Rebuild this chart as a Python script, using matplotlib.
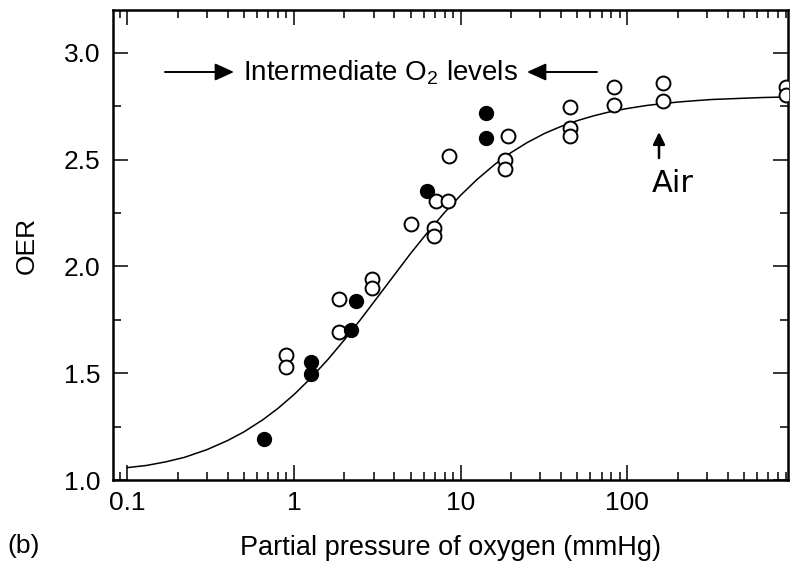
import matplotlib
matplotlib.use("Agg")
import matplotlib.pyplot as plt
from matplotlib.ticker import FixedLocator, FixedFormatter, LogLocator, NullFormatter, MultipleLocator, FormatStrFormatter

plt.rcParams['font.family'] = ['Liberation Sans', 'DejaVu Sans']
plt.rcParams['mathtext.fontset'] = 'custom'
plt.rcParams['mathtext.rm'] = 'Liberation Sans'
plt.rcParams['mathtext.it'] = 'Liberation Sans'

# Open circles
open_x = [0.9, 0.9, 1.87, 1.87, 2.94, 2.94, 5.0, 6.95, 6.95, 7.1, 8.35, 8.5,
          18.5, 18.5, 19.1, 45, 45, 45, 83, 83, 163, 163, 890, 890]
open_y = [1.585, 1.53, 1.695, 1.846, 1.94, 1.898, 2.198, 2.18, 2.144, 2.308, 2.308, 2.518,
          2.499, 2.455, 2.608, 2.746, 2.647, 2.608, 2.839, 2.756, 2.858, 2.775, 2.839, 2.803]

# Filled circles
filled_x = [0.664, 1.26, 1.26, 2.2, 2.35, 6.28, 14.2, 14.2]
filled_y = [1.19, 1.554, 1.495, 1.70, 1.84, 2.354, 2.72, 2.603]

# Fitted curve
curve_x = [0.1, 0.13, 0.17, 0.22, 0.3, 0.4, 0.5, 0.65, 0.8, 1.0, 1.25, 1.6, 2, 2.5, 3.2, 4, 5,
           6.3, 8, 10, 12.5, 16, 20, 25, 32, 40, 50, 63, 80, 100, 130, 160, 200, 250, 320,
           400, 500, 630, 800, 920]
curve_y = [1.058, 1.068, 1.085, 1.106, 1.142, 1.185, 1.225, 1.282, 1.335, 1.40, 1.474, 1.565,
           1.655, 1.75, 1.86, 1.96, 2.06, 2.157, 2.252, 2.333, 2.406, 2.477, 2.532, 2.579,
           2.623, 2.655, 2.682, 2.705, 2.725, 2.739, 2.753, 2.761, 2.769, 2.775, 2.781,
           2.784, 2.787, 2.790, 2.792, 2.793]

x_ticks = [0.1, 1, 10, 100]
x_tick_labels = ['0.1', '1', '10', '100']

fig = plt.figure(figsize=(7.94, 5.70), dpi=100)
ax = fig.add_axes([113/794, 1-480/570, 675/794, 470/570])

ax.plot(curve_x, curve_y, color='black', lw=1.1, zorder=2)
ax.plot(open_x, open_y, 'o', ms=10, mfc='white', mec='black', mew=1.4, zorder=3)
ax.plot(filled_x, filled_y, 'o', ms=10, mfc='black', mec='black', mew=1.0, zorder=4)

ax.set_xscale('log')
ax.set_xlim(0.082, 920)
ax.set_ylim(1.0, 3.2)

ax.xaxis.set_major_locator(FixedLocator(x_ticks))
ax.xaxis.set_major_formatter(FixedFormatter(x_tick_labels))
ax.xaxis.set_minor_locator(LogLocator(base=10, subs=range(2, 10), numticks=20))
ax.xaxis.set_minor_formatter(NullFormatter())
ax.yaxis.set_major_locator(MultipleLocator(0.5))
ax.yaxis.set_major_formatter(FormatStrFormatter('%.1f'))
ax.yaxis.set_minor_locator(MultipleLocator(0.25))

ax.tick_params(which='both', direction='in', top=True, right=True, width=1.1, labelsize=19)
ax.tick_params(which='major', length=11)
ax.tick_params(which='minor', length=5.5)
ax.tick_params(axis='x', which='major', pad=8)
ax.tick_params(axis='y', which='major', pad=9)
for s in ax.spines.values():
    s.set_linewidth(1.8)

ax.set_xlabel('Partial pressure of oxygen (mmHg)', fontsize=19.5, labelpad=14)
ax.set_ylabel('OER', fontsize=19, labelpad=18)

fig.text(7/794, 1-546/570, '(b)', fontsize=19, ha='left', va='center')

def fx(px):
    return (px - 113) / 675
def fy(py):
    return (480 - py) / 470

ax.text(fx(381), fy(73), 'Intermediate O$_2$ levels', transform=ax.transAxes,
        fontsize=20, ha='center', va='center')
astyle = '-|>,head_length=0.55,head_width=0.25'
ax.annotate('', xy=(fx(234), fy(72)), xytext=(fx(165), fy(72)),
            xycoords='axes fraction', textcoords='axes fraction',
            arrowprops=dict(arrowstyle=astyle, color='black', lw=1.4, mutation_scale=21, shrinkA=0, shrinkB=0))
ax.annotate('', xy=(fx(527), fy(72)), xytext=(fx(597), fy(72)),
            xycoords='axes fraction', textcoords='axes fraction',
            arrowprops=dict(arrowstyle=astyle, color='black', lw=1.4, mutation_scale=21, shrinkA=0, shrinkB=0))

# "Air" marker arrow
ax.annotate('', xy=(fx(659), fy(132)), xytext=(fx(659), fy(158)),
            xycoords='axes fraction', textcoords='axes fraction',
            arrowprops=dict(arrowstyle='-|>,head_length=0.45,head_width=0.22', color='black',
                            lw=1.8, mutation_scale=16, shrinkA=0, shrinkB=0))
ax.text(fx(673), fy(183), 'Air', transform=ax.transAxes, fontsize=22, ha='center', va='center',
        family=['DejaVu Sans'])

fig.savefig('out.png', dpi=100)
